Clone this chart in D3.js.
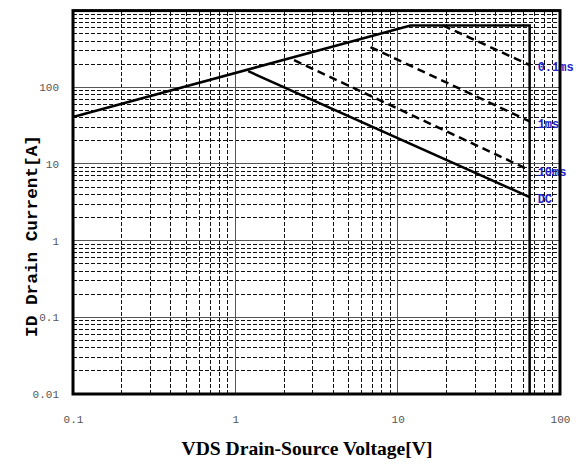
<!DOCTYPE html>
<html>
<head>
<meta charset="utf-8">
<script src="https://cdn.jsdelivr.net/npm/d3@7"></script>
<style>
  body { margin: 0; background: #fff; }
  .tick text { font-family: "Liberation Mono", monospace; font-size: 11px; fill: #555; }
</style>
</head>
<body>
<svg id="chart"></svg>
<script>
// Axis ticks
var xTicks = [0.1, 1, 10, 100];
var xTickLabels = ["0.1", "1", "10", "100"];
var yTicks = [0.01, 0.1, 1, 10, 100];
var yTickLabels = ["0.01", "0.1", "1", "10", "100"];

// Safe operating area lines, [VDS, ID]
var boundary = [[0.1, 41], [12, 640], [65, 640], [65, 0.01]];
var line01ms = [[19, 640], [65, 195]];
var line1ms = [[6.8, 334], [65, 36]];
var line10ms = [[2.3, 226], [65, 8.3]];
var lineDC = [[1.2, 162], [65, 3.7]];

var seriesNames = ["0.1ms", "1ms", "10ms", "DC"];

var width = 579, height = 464;
var margin = {left: 73, top: 10.6, right: 19, bottom: 70};

var svg = d3.select("#chart")
    .attr("width", width)
    .attr("height", height);

var x = d3.scaleLog()
    .domain([0.1, 100])
    .range([margin.left, width - margin.right]);

var y = d3.scaleLog()
    .domain([0.01, 1000])
    .range([height - margin.bottom, margin.top]);

var x0 = x.range()[0], x1 = x.range()[1];
var y0 = y.range()[0], y1 = y.range()[1];

// minor gridlines (2..9 in every decade), dashed
var isDecade = function(v) { return Math.abs(Math.log10(v) - Math.round(Math.log10(v))) < 1e-6; };
var xMinor = x.ticks().filter(function(v) { return !isDecade(v); });
var yMinor = y.ticks().filter(function(v) { return !isDecade(v); });

var grid = svg.append("g")
    .attr("class", "grid")
    .attr("shape-rendering", "crispEdges");

grid.selectAll(".vminor")
    .data(xMinor)
    .enter().append("line")
    .attr("x1", function(d) { return x(d); })
    .attr("x2", function(d) { return x(d); })
    .attr("y1", y0).attr("y2", y1)
    .attr("stroke", "#111")
    .attr("stroke-dasharray", "4,2");

grid.selectAll(".hminor")
    .data(yMinor)
    .enter().append("line")
    .attr("y1", function(d) { return y(d); })
    .attr("y2", function(d) { return y(d); })
    .attr("x1", x0).attr("x2", x1)
    .attr("stroke", "#111")
    .attr("stroke-dasharray", "4,2");

// major gridlines, solid grey
grid.selectAll(".vmajor")
    .data(xTicks)
    .enter().append("line")
    .attr("x1", function(d) { return x(d); })
    .attr("x2", function(d) { return x(d); })
    .attr("y1", y0).attr("y2", y1)
    .attr("stroke", "#555");

grid.selectAll(".hmajor")
    .data(yTicks.concat([1000]))
    .enter().append("line")
    .attr("y1", function(d) { return y(d); })
    .attr("y2", function(d) { return y(d); })
    .attr("x1", x0).attr("x2", x1)
    .attr("stroke", "#555");

// axes (labels only)
svg.append("g")
    .attr("transform", "translate(0," + (y0 + 18) + ")")
    .call(d3.axisBottom(x).tickValues(xTicks).tickSize(0)
        .tickFormat(function(d, i) { return xTickLabels[i]; }))
    .call(function(g) { g.select(".domain").remove(); });

svg.append("g")
    .attr("transform", "translate(" + (x0 - 11) + ",0)")
    .call(d3.axisLeft(y).tickValues(yTicks).tickSize(0)
        .tickFormat(function(d, i) { return yTickLabels[i]; }))
    .call(function(g) { g.select(".domain").remove(); });

// curves
var line = d3.line()
    .x(function(d) { return x(d[0]); })
    .y(function(d) { return y(d[1]); });

svg.append("path")
    .datum(boundary)
    .attr("fill", "none")
    .attr("stroke", "#000")
    .attr("stroke-width", 2.5)
    .attr("d", line);

svg.append("path")
    .datum(lineDC)
    .attr("fill", "none")
    .attr("stroke", "#000")
    .attr("stroke-width", 2.5)
    .attr("d", line);

[line01ms, line1ms, line10ms].forEach(function(s) {
    svg.append("path")
        .datum(s)
        .attr("fill", "none")
        .attr("stroke", "#000")
        .attr("stroke-width", 2.5)
        .attr("stroke-dasharray", "8,5")
        .attr("d", line);
});

// series labels at the line ends
var ends = [line01ms, line1ms, line10ms, lineDC].map(function(s) { return s[s.length - 1]; });
svg.selectAll(".slabel")
    .data(ends)
    .enter().append("text")
    .attr("x", function(d) { return x(d[0]) + 8; })
    .attr("y", function(d) { return y(d[1]) + 2; })
    .attr("dy", "0.35em")
    .attr("font-family", "Liberation Mono, monospace")
    .attr("font-size", 12)
    .attr("font-weight", "bold")
    .attr("fill", "#2222cc")
    .text(function(d, i) { return seriesNames[i]; });

// frame
svg.append("rect")
    .attr("x", x0).attr("y", y1)
    .attr("width", x1 - x0).attr("height", y0 - y1)
    .attr("fill", "none")
    .attr("stroke", "#000")
    .attr("stroke-width", 3);

// axis titles
svg.append("text")
    .attr("x", 307).attr("y", 455)
    .attr("text-anchor", "middle")
    .attr("font-family", "Liberation Serif, serif")
    .attr("font-weight", "bold")
    .attr("font-size", 19)
    .attr("textLength", 251)
    .attr("lengthAdjust", "spacingAndGlyphs")
    .text("VDS Drain-Source Voltage[V]");

svg.append("text")
    .attr("transform", "translate(37,236) rotate(-90)")
    .attr("text-anchor", "middle")
    .attr("font-family", "Liberation Mono, monospace")
    .attr("font-weight", "bold")
    .attr("font-size", 17)
    .attr("textLength", 202)
    .attr("lengthAdjust", "spacingAndGlyphs")
    .text("ID Drain Current[A]");
</script>
</body>
</html>
